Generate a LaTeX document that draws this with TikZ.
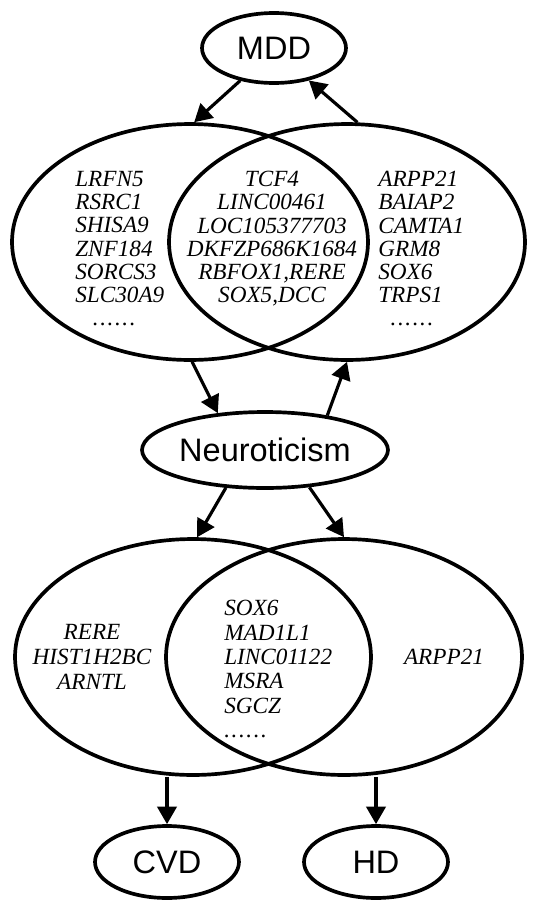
\documentclass[tikz,border=0pt]{standalone}
\usepackage{fontspec}
\setmainfont{Liberation Serif}
\setsansfont{Liberation Sans}
\usetikzlibrary{shapes.geometric,arrows.meta}

\newcommand{\gdots}{.\kern0.9pt.\kern0.9pt.\kern0.9pt.\kern0.9pt.\kern0.9pt.}

\tikzset{
  venn/.style={ellipse, draw, line width=2.1pt, inner sep=0pt,
    minimum width=7.12cm, minimum height=4.72cm},
  trait/.style={ellipse, draw, line width=2.1pt, inner sep=0pt,
    font=\sffamily\fontsize{18.5}{20}\selectfont},
  genes/.style={inner sep=0pt, font=\itshape\fontsize{13.2}{13.2}\selectfont},
  link/.style={-{Triangle[length=10pt,width=11pt]}, line width=1.8pt},
}

\begin{document}
\begin{tikzpicture}[x=0.02cm, y=-0.02cm]
  \useasboundingbox (0,0) rectangle (533,900);

  % Trait nodes
  \node[trait, minimum width=2.88cm, minimum height=1.4cm] (mdd) at (274,48) {MDD};
  \node[trait, minimum width=4.92cm, minimum height=1.52cm] (neuro) at (265,450) {Neuroticism};
  \node[trait, minimum width=2.88cm, minimum height=1.44cm] (cvd) at (167,862) {CVD};
  \node[trait, minimum width=2.88cm, minimum height=1.44cm] (hd) at (376,862) {HD};

  % Upper Venn circles
  \node[venn] (vennA) at (190,242) {};
  \node[venn] (vennB) at (347,242) {};

  % Lower Venn circles
  \node[venn] (vennC) at (193,657) {};
  \node[venn] (vennD) at (344,657) {};

  % Upper gene lists
  \node[genes, anchor=north west, align=left] (listA) at (75,171)
    {LRFN5\\RSRC1\\SHISA9\\ZNF184\\SORCS3\\SLC30A9\\\hspace*{10pt}\gdots};
  \node[genes, anchor=north, align=center] (listAB) at (272,171)
    {TCF4\\LINC00461\\LOC105377703\\DKFZP686K1684\\RBFOX1,RERE\\SOX5,DCC};
  \node[genes, anchor=north west, align=left] (listB) at (378,171)
    {ARPP21\\BAIAP2\\CAMTA1\\GRM8\\SOX6\\TRPS1\\\hspace*{7pt}\gdots};

  % Lower gene lists
  \node[genes, anchor=north, align=center, font=\itshape\fontsize{13.2}{14.2}\selectfont]
    (listC) at (92,624) {RERE\\HIST1H2BC\\ARNTL};
  \node[genes, anchor=north west, align=left, font=\itshape\fontsize{13.2}{13.9}\selectfont]
    (listCD) at (224,600) {SOX6\\MAD1L1\\LINC01122\\MSRA\\SGCZ\\\gdots};
  \node[genes] (listD) at (444,657) {ARPP21};

  % Arrows
  \draw[link] (mdd.-136) -- (vennA.88);
  \draw[link] (vennB.85) -- (mdd.-43);
  \draw[link] (vennA.-89) -- (neuro.142);
  \draw[link] (neuro.29.5) -- (vennB.-90);
  \draw[link] (neuro.-136) -- (vennC.88);
  \draw[link] (neuro.-40) -- (vennD.90);
  \draw[link] (vennC.south -| cvd.north) -- (cvd.north);
  \draw[link] (vennD.south -| hd.north) -- (hd.north);
\end{tikzpicture}
\end{document}
